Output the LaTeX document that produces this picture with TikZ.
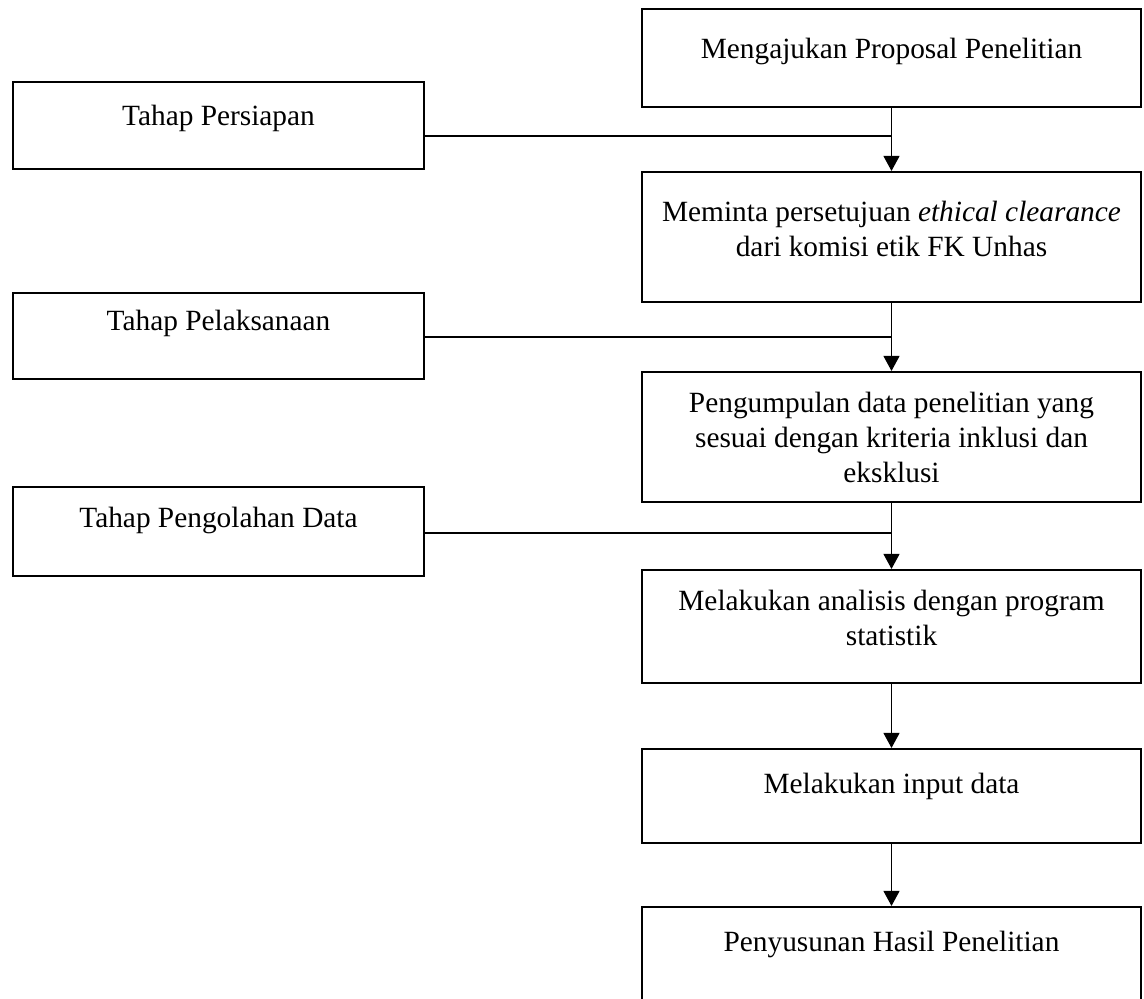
\documentclass[tikz,border=0pt]{standalone}
\usepackage{fontspec}
\setmainfont{Liberation Serif}
\usetikzlibrary{arrows.meta,positioning,calc}

\begin{document}
\begin{tikzpicture}[
  every node/.style={font=\fontsize{16.7}{19.9}\selectfont},
  lk/.style={rectangle, draw=black, line width=1.2pt, minimum width=9.98cm, inner sep=0pt},
  th/.style={rectangle, draw=black, line width=1.2pt, minimum width=8.22cm, inner sep=0pt},
  txt/.style={anchor=north, inner sep=0pt, yshift=#1, align=center},
  txt/.default=-0.42cm,
  arr/.style={-{Triangle[width=0.32cm,length=0.3cm]}, line width=0.6pt},
  ln/.style={line width=0.6pt},
]
\useasboundingbox (0,0) rectangle (22.88,-19.96);
\node[lk, minimum height=1.96cm, label={[txt=-0.6cm]north:{Mengajukan Proposal Penelitian}}] (aju) at (17.83,-1.16) {};
\node[lk, minimum height=2.60cm, label={[txt=-0.6cm]north:{Meminta persetujuan \textit{ethical clearance}\\dari komisi etik FK Unhas}}] (etik) at (17.83,-4.74) {};
\node[lk, minimum height=2.60cm, label={[txt]north:{Pengumpulan data penelitian yang\\sesuai dengan kriteria inklusi dan\\eksklusi}}] (kumpul) at (17.83,-8.74) {};
\node[lk, minimum height=2.26cm, label={[txt]north:{Melakukan analisis dengan program\\statistik}}] (analisis) at (17.83,-12.53) {};
\node[lk, minimum height=1.88cm, label={[txt=-0.5cm]north:{Melakukan input data}}] (input) at (17.83,-15.92) {};
\node[lk, minimum height=1.90cm, label={[txt=-0.5cm]north:{Penyusunan Hasil Penelitian}}] (susun) at (17.83,-19.09) {};
\node[th, minimum height=1.74cm, label={[txt=-0.48cm]north:{Tahap Persiapan}}] (siap) at (4.37,-2.51) {};
\node[th, minimum height=1.72cm, label={[txt=-0.36cm]north:{Tahap Pelaksanaan}}] (laksana) at (4.37,-6.72) {};
\node[th, minimum height=1.78cm, label={[txt]north:{Tahap Pengolahan Data}}] (olah) at (4.37,-10.63) {};
\coordinate (j1) at (17.83,-2.72);
\coordinate (j2) at (17.83,-6.74);
\coordinate (j3) at (17.83,-10.66);
\draw[arr] (aju.south) -- (etik.north);
\draw[arr] (etik.south) -- (kumpul.north);
\draw[arr] (kumpul.south) -- (analisis.north);
\draw[arr] (analisis.south) -- (input.north);
\draw[arr] (input.south) -- (susun.north);
\draw[ln] (siap.east |- j1) -- (j1);
\draw[ln] (laksana.east |- j2) -- (j2);
\draw[ln] (olah.east |- j3) -- (j3);
\end{tikzpicture}
\end{document}
